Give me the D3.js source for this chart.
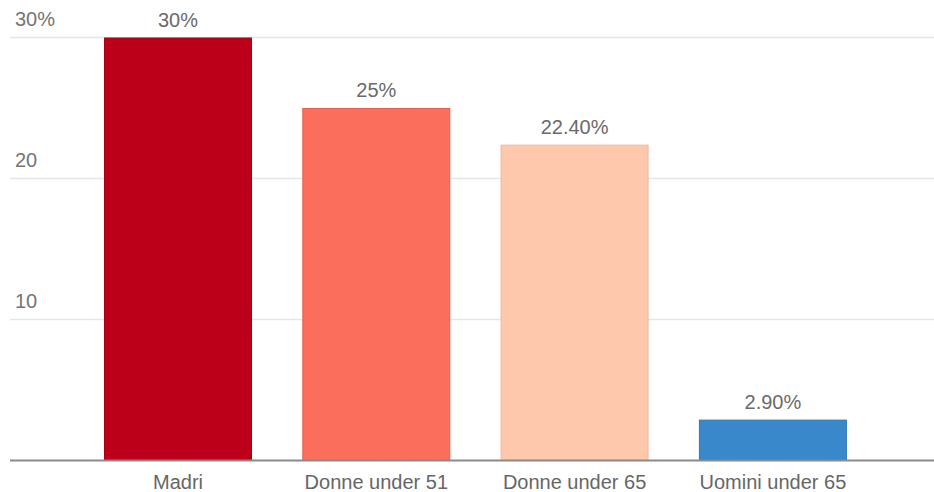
<!DOCTYPE html>
<html>
<head>
<meta charset="utf-8">
<script src="https://cdn.jsdelivr.net/npm/d3@7"></script>
<style>
  html, body { margin: 0; padding: 0; background: #fff; }
  svg { display: block; font-family: "Liberation Sans", Arial, sans-serif; }
</style>
</head>
<body>
<svg id="chart" width="934" height="492"></svg>
<script>
// Share of each group (percent)
const categories = ["Madri", "Donne under 51", "Donne under 65", "Uomini under 65"];
const values = [30, 25, 22.4, 2.9];
const valueLabels = ["30%", "25%", "22.40%", "2.90%"];
const barColors = ["#bd0019", "#fb6e5c", "#fdc8ac", "#3a88cc"];
const barEdges = ["#a80016", "#e8604f", "#efb89c", "#2f78b8"];
const yTicks = [10, 20, 30];
const yTickLabels = ["10", "20", "30%"];

const svg = d3.select("#chart");
const W = 934, H = 492;
const margin = { left: 10, top: 37.5, bottom: 31.5 };

// band layout: ~198px step, bars ~148px wide
const x = d3.scaleBand()
  .domain(categories)
  .range([78.85, 872.05])
  .paddingInner(0.2537)
  .paddingOuter(0.12685);

const y = d3.scaleLinear()
  .domain([0, 30])
  .range([H - margin.bottom, margin.top]);

// gridlines
svg.append("g")
  .selectAll("line")
  .data(yTicks)
  .join("line")
  .attr("x1", margin.left)
  .attr("x2", W)
  .attr("y1", d => y(d))
  .attr("y2", d => y(d))
  .attr("stroke", "#e6e6e6")
  .attr("stroke-width", 1.5);

// y tick labels
svg.append("g")
  .selectAll("text")
  .data(yTicks)
  .join("text")
  .attr("x", 15)
  .attr("y", d => y(d) - 11.5)
  .attr("fill", "#757575")
  .attr("font-size", 20)
  .text((d, i) => yTickLabels[i]);

// bars
svg.append("g")
  .selectAll("rect")
  .data(values)
  .join("rect")
  .attr("x", (d, i) => x(categories[i]) + 0.5)
  .attr("y", d => y(d) + 0.5)
  .attr("width", x.bandwidth() - 1)
  .attr("height", d => y(0) - y(d) - 0.5)
  .attr("fill", (d, i) => barColors[i])
  .attr("stroke", (d, i) => barEdges[i])
  .attr("stroke-width", 1);

// value labels
svg.append("g")
  .selectAll("text")
  .data(values)
  .join("text")
  .attr("x", (d, i) => x(categories[i]) + x.bandwidth() / 2)
  .attr("y", d => y(d) - 11)
  .attr("text-anchor", "middle")
  .attr("fill", "#6a6a6a")
  .attr("font-size", 20)
  .text((d, i) => valueLabels[i]);

// baseline
svg.append("line")
  .attr("x1", margin.left)
  .attr("x2", W)
  .attr("y1", y(0))
  .attr("y2", y(0))
  .attr("stroke", "#8a8a8a")
  .attr("stroke-width", 2);

// category axis labels
const xAxis = d3.axisBottom(x).tickSize(0).tickPadding(0);
const gx = svg.append("g")
  .attr("transform", `translate(0,${y(0)})`)
  .call(xAxis);
gx.select(".domain").remove();
gx.selectAll("text")
  .attr("dy", null)
  .attr("y", 28.5)
  .attr("fill", "#666")
  .attr("font-size", 20)
  .attr("font-family", "Liberation Sans, Arial, sans-serif");
</script>
</body>
</html>
